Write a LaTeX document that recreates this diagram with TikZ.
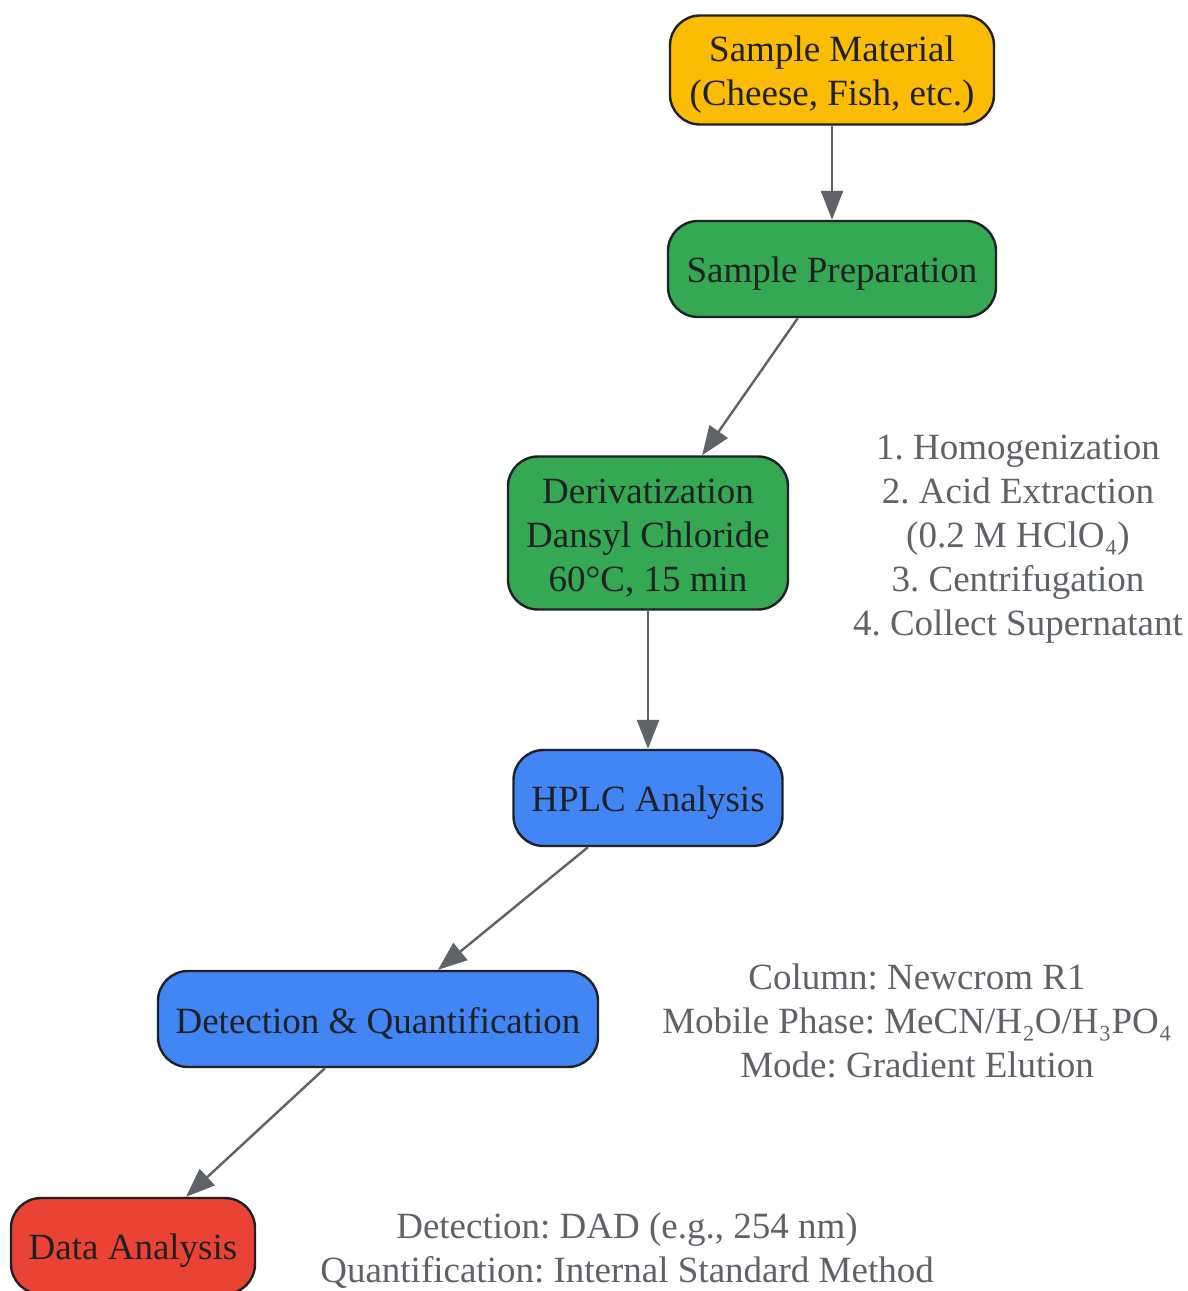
\documentclass[tikz,border=0pt]{standalone}
\usepackage{fontspec}
\setmainfont{Liberation Serif}
\usetikzlibrary{arrows.meta}
\frenchspacing
\definecolor{cyellow}{HTML}{FBBC04}
\definecolor{cgreen}{HTML}{34A853}
\definecolor{cblue}{HTML}{4285F4}
\definecolor{cred}{HTML}{EA4335}
\definecolor{cgray}{HTML}{5F6368}
\definecolor{cdark}{HTML}{202124}
\newcommand{\myup}{\rule{0pt}{35pt}}
\tikzset{
  stepbox/.style={draw=cdark, line width=2.4pt, rounded corners=30pt, align=center,
    text=cdark, inner sep=0pt, font=\fontsize{37}{44}\selectfont\frenchspacing},
  note/.style={align=center, text=cgray, inner sep=0pt, font=\fontsize{37}{44}\selectfont\frenchspacing},
  conn/.style={draw=cgray, line width=2.4pt, -{Triangle[length=29pt,width=22pt]}}
}
\begin{document}
\begin{tikzpicture}[x=1pt,y=-1pt]
\useasboundingbox (0,0) rectangle (1188,1291);
\clip (0,0) rectangle (1188,1291);
\node[stepbox, fill=cyellow, minimum width=324pt, minimum height=109pt] (mat) at (832,70) {\myup Sample Material\\(Cheese, Fish, etc.)};
\node[stepbox, fill=cgreen, minimum width=328pt, minimum height=96pt] (prep) at (832,269) {\myup Sample Preparation};
\node[stepbox, fill=cgreen, minimum width=280pt, minimum height=153pt] (deriv) at (648,533) {\myup Derivatization\\Dansyl Chloride\\60°C, 15 min};
\node[stepbox, fill=cblue, minimum width=269pt, minimum height=96pt] (hplc) at (648,798) {\myup HPLC Analysis};
\node[stepbox, fill=cblue, minimum width=440pt, minimum height=96pt] (det) at (378,1019) {\myup Detection \& Quantification};
\node[stepbox, fill=cred, minimum width=244pt, minimum height=96pt] (data) at (133,1246) {\myup Data Analysis};
\node[note] (n1) at (1018,539) {1. Homogenization\\2. Acid Extraction\\(0.2 M HClO₄)\\3. Centrifugation\\4. Collect Supernatant};
\node[note] (n2) at (917,1021) {Column: Newcrom R1\\Mobile Phase: MeCN/H₂O/H₃PO₄\\Mode: Gradient Elution};
\node[note] (n3) at (627,1251) {Detection: DAD (e.g., 254 nm)\\Quantification: Internal Standard Method};
\draw[conn] (mat) -- (prep);
\draw[conn] (prep) -- (deriv);
\draw[conn] (deriv) -- (hplc);
\draw[conn] (hplc) -- (det);
\draw[conn] (det) -- (data);
\end{tikzpicture}
\end{document}
